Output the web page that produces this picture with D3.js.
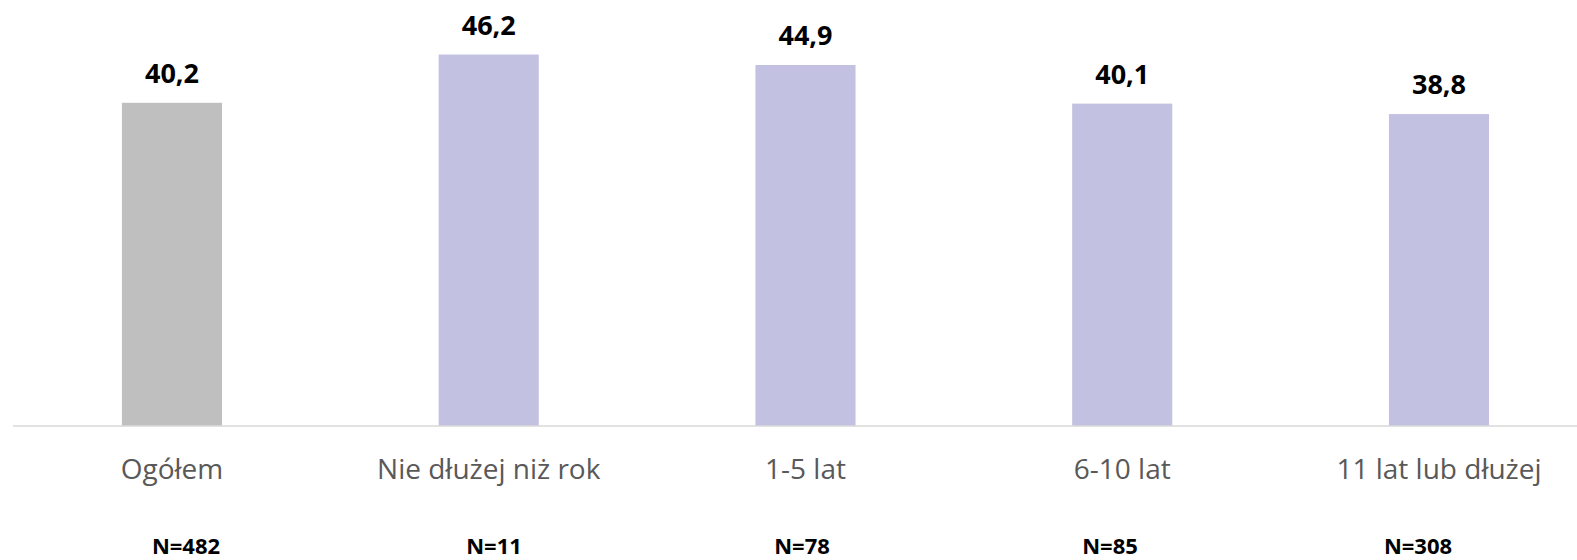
<!DOCTYPE html>
<html>
<head>
<meta charset="utf-8">
<script src="https://cdn.jsdelivr.net/npm/d3@7"></script>
<style>
  html, body { margin: 0; padding: 0; background: #fff; overflow: hidden; }
  svg { display: block; }
</style>
</head>
<body>
<svg id="chart" width="1577" height="560"></svg>
<script>
const categories = ["Ogółem", "Nie dłużej niż rok", "1-5 lat", "6-10 lat", "11 lat lub dłużej"];
const values = [40.2, 46.2, 44.9, 40.1, 38.8];
const sampleSizes = ["N=482", "N=11", "N=78", "N=85", "N=308"];
const barColors = ["#bfbfbf", "#c3c1e1", "#c3c1e1", "#c3c1e1", "#c3c1e1"];

const svg = d3.select("#chart");
const baseY = 426;

const x = d3.scaleBand()
  .domain(categories)
  .range([13.6, 13.6 + 5 * 316.75])
  .paddingInner(0.684)
  .paddingOuter(0.342);

const y = d3.scaleLinear().domain([0, 50]).range([baseY, 24]);

const nScale = d3.scalePoint().domain(categories).range([186, 1418]);

const fmt = v => d3.format(".1f")(v).replace(".", ",");

svg.append("g").selectAll("rect")
  .data(values)
  .join("rect")
  .attr("x", (d, i) => x(categories[i]))
  .attr("width", x.bandwidth())
  .attr("y", d => y(d))
  .attr("height", d => baseY - y(d))
  .attr("fill", (d, i) => barColors[i]);

// axis line
const xAxis = d3.axisBottom(x).tickSize(0).tickPadding(0).tickSizeOuter(0);
const ax = svg.append("g").attr("transform", `translate(0,${baseY})`).call(xAxis);
ax.select(".domain").attr("stroke", "#d9d9d9").attr("stroke-width", 1.5)
  .attr("d", `M13,0H1577`);
ax.selectAll(".tick text")
  .attr("y", 53)
  .attr("dy", 0)
  .attr("fill", "#595959")
  .style("font-family", "'Open Sans', sans-serif")
  .style("font-size", "28px");

// value labels
svg.append("g").selectAll("text")
  .data(values)
  .join("text")
  .attr("x", (d, i) => x(categories[i]) + x.bandwidth() / 2)
  .attr("y", d => y(d) - 20)
  .attr("text-anchor", "middle")
  .attr("fill", "#000")
  .style("font-family", "'Open Sans', sans-serif")
  .style("font-weight", "bold")
  .style("font-size", "27px")
  .text(d => fmt(d));

// N labels
svg.append("g").selectAll("text")
  .data(sampleSizes)
  .join("text")
  .attr("x", (d, i) => nScale(categories[i]))
  .attr("y", 554)
  .attr("text-anchor", "middle")
  .attr("fill", "#000")
  .style("font-family", "'Open Sans', sans-serif")
  .style("font-weight", "bold")
  .style("font-size", "22px")
  .text(d => d);
</script>
</body>
</html>
